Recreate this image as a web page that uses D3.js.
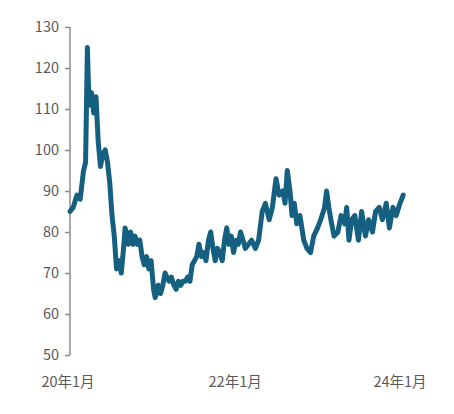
<!DOCTYPE html>
<html><head><meta charset="utf-8">
<script src="https://cdn.jsdelivr.net/npm/d3@7"></script>
<style>body{margin:0;background:#fff}text{font-family:"Noto Sans CJK SC","Liberation Sans",sans-serif}</style>
</head><body><svg id="c" width="454" height="414"></svg>
<script>
const dates=["2020-01-01","2020-01-15","2020-02-01","2020-02-15","2020-03-01","2020-03-10","2020-03-18","2020-03-25","2020-04-05","2020-04-15","2020-04-25","2020-05-05","2020-05-15","2020-05-25","2020-06-05","2020-06-15","2020-06-25","2020-07-05","2020-07-15","2020-07-25","2020-08-05","2020-08-15","2020-08-25","2020-09-01","2020-09-15","2020-09-25","2020-10-05","2020-10-15","2020-10-25","2020-11-05","2020-11-15","2020-11-25","2020-12-05","2020-12-15","2020-12-25","2021-01-05","2021-01-12","2021-01-25","2021-02-05","2021-02-15","2021-02-25","2021-03-05","2021-03-15","2021-03-25","2021-04-05","2021-04-15","2021-04-25","2021-05-05","2021-05-15","2021-05-25","2021-06-05","2021-06-15","2021-06-25","2021-07-05","2021-07-15","2021-07-25","2021-08-05","2021-08-15","2021-08-25","2021-09-05","2021-09-15","2021-09-25","2021-10-05","2021-10-15","2021-10-25","2021-11-05","2021-11-15","2021-11-25","2021-12-05","2021-12-15","2021-12-25","2022-01-05","2022-01-15","2022-01-25","2022-02-05","2022-02-15","2022-03-01","2022-03-15","2022-04-01","2022-04-15","2022-05-01","2022-05-15","2022-06-01","2022-06-15","2022-07-01","2022-07-15","2022-08-01","2022-08-10","2022-08-20","2022-09-01","2022-09-10","2022-09-20","2022-10-01","2022-10-15","2022-11-01","2022-11-15","2022-12-01","2022-12-15","2023-01-01","2023-01-15","2023-02-01","2023-02-10","2023-02-20","2023-03-01","2023-03-15","2023-04-01","2023-04-15","2023-05-01","2023-05-10","2023-05-20","2023-06-01","2023-06-15","2023-07-01","2023-07-15","2023-08-01","2023-08-15","2023-09-01","2023-09-15","2023-10-01","2023-10-15","2023-11-01","2023-11-15","2023-12-01","2023-12-15","2024-01-01","2024-01-15"];
const values=[85,86,89,88,95,97,125,111,114,109,113,102,96,99,100,97,92,84,79,71,73,70,76,81,77,80,77,79,77,78,74,72,74,71,73,66,64,67,65,67,70,69,68,69,67,66,68,67,68,68,69,68,72,73,74,77,74,75,73,78,80,76,73,76,75,73,78,81,77,79,75,78,77,80,78,76,77,78,76,78,85,87,83,86,93,89,90,87,95,90,84,87,82,84,78,76,75,79,81,83,86,90,86,83,79,80,84,82,86,78,83,84,78,85,79,83,80,85,86,83,87,81,86,84,87,89];
const yTicks=[50,60,70,80,90,100,110,120,130];
const xTicks=["2020-01-01","2022-01-01","2024-01-01"];
const xTickLabels=["20年1月","22年1月","24年1月"];
const p=d3.timeParse("%Y-%m-%d");
const svg=d3.select("#c");
const x=d3.scaleTime().domain([p("2020-01-01"),p("2024-01-01")]).range([70,400]);
const y=d3.scaleLinear().domain([50,130]).range([355,27]);
const ya=svg.append("g").attr("transform","translate(70,0)").call(d3.axisLeft(y).tickValues(yTicks).tickSize(5).tickPadding(6));
ya.selectAll("path,line").attr("stroke","#8c8c8c").attr("stroke-width",1.5);
ya.select(".domain").attr("d","M0,27V355");
ya.selectAll("text").attr("fill","#595959").style("font-size","14.5px");
svg.append("g").selectAll("text").data(xTicks).join("text")
 .attr("x",(d,i)=>x(p(d))-(i==0?2:0)).attr("y",387).attr("text-anchor","middle")
 .attr("fill","#595959").style("font-size","14.5px").text((d,i)=>xTickLabels[i]);
const data=dates.map((d,i)=>({d:p(d),v:values[i]}));
svg.append("path").datum(data).attr("fill","none").attr("stroke","#155f80").attr("stroke-width",5)
 .attr("stroke-linejoin","round").attr("stroke-linecap","round")
 .attr("d",d3.line().x(d=>x(d.d)).y(d=>y(d.v)));
</script></body></html>
